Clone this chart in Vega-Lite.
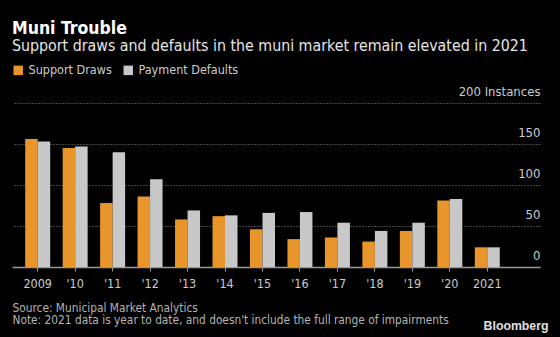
{
  "$schema": "https://vega.github.io/schema/vega-lite/v6.json",
  "autosize": {"type": "none"},
  "width": 528,
  "height": 164,
  "padding": {"left": 12, "top": 103, "right": 20, "bottom": 70},
  "background": "#000000",
  "title": {
    "text": "Muni Trouble",
    "subtitle": "Support draws and defaults in the muni market remain elevated in 2021",
    "anchor": "start",
    "offset": 10,
    "font": "DejaVu Sans Condensed",
    "fontSize": 17.5,
    "fontWeight": "bold",
    "color": "#ffffff",
    "subtitleFont": "DejaVu Sans Condensed",
    "subtitleFontSize": 15.8,
    "subtitleColor": "#e6e6e6",
    "subtitlePadding": 1.5
  },
  "data": {
    "values": [
      {"year": "2009", "series": "Support Draws", "value": 156},
      {"year": "2009", "series": "Payment Defaults", "value": 153},
      {"year": "'10", "series": "Support Draws", "value": 145},
      {"year": "'10", "series": "Payment Defaults", "value": 147},
      {"year": "'11", "series": "Support Draws", "value": 78},
      {"year": "'11", "series": "Payment Defaults", "value": 140},
      {"year": "'12", "series": "Support Draws", "value": 86},
      {"year": "'12", "series": "Payment Defaults", "value": 107},
      {"year": "'13", "series": "Support Draws", "value": 58},
      {"year": "'13", "series": "Payment Defaults", "value": 69},
      {"year": "'14", "series": "Support Draws", "value": 62},
      {"year": "'14", "series": "Payment Defaults", "value": 63},
      {"year": "'15", "series": "Support Draws", "value": 46},
      {"year": "'15", "series": "Payment Defaults", "value": 66},
      {"year": "'16", "series": "Support Draws", "value": 34},
      {"year": "'16", "series": "Payment Defaults", "value": 67},
      {"year": "'17", "series": "Support Draws", "value": 36},
      {"year": "'17", "series": "Payment Defaults", "value": 54},
      {"year": "'18", "series": "Support Draws", "value": 31},
      {"year": "'18", "series": "Payment Defaults", "value": 44},
      {"year": "'19", "series": "Support Draws", "value": 44},
      {"year": "'19", "series": "Payment Defaults", "value": 54},
      {"year": "'20", "series": "Support Draws", "value": 81},
      {"year": "'20", "series": "Payment Defaults", "value": 83},
      {"year": "2021", "series": "Support Draws", "value": 24},
      {"year": "2021", "series": "Payment Defaults", "value": 24}
    ]
  },
  "mark": {"type": "bar"},
  "encoding": {
    "x": {
      "field": "year",
      "type": "nominal",
      "sort": null,
      "scale": {"paddingInner": 0.333, "paddingOuter": 0.713, "align": 0.247},
      "axis": {
        "labelAngle": 0,
        "labelFont": "DejaVu Sans Condensed",
        "labelFontSize": 12.5,
        "labelColor": "#cccccc",
        "labelPadding": 6,
        "tickSize": 4,
        "tickColor": "#999999",
        "domain": true,
        "domainColor": "#999999",
        "domainWidth": 1.5,
        "title": ["Source: Municipal Market Analytics", "Note: 2021 data is year to date, and doesn't include the full range of impairments"],
        "titleFont": "DejaVu Sans Condensed",
        "titleFontSize": 11.8,
        "titleFontWeight": "normal",
        "titleColor": "#b4b4b4",
        "titleAnchor": "start",
        "titleAlign": "left",
        "titleBaseline": "top",
        "titleX": 0,
        "titleY": 35,
        "titleLineHeight": 12.5
      }
    },
    "xOffset": {"field": "series", "type": "nominal", "sort": ["Support Draws", "Payment Defaults"]},
    "y": {
      "field": "value",
      "type": "quantitative",
      "scale": {"domain": [0, 200], "nice": false},
      "axis": {
        "orient": "right",
        "values": [0, 50, 100, 150, 200],
        "labelExpr": "datum.value == 200 ? '200 Instances' : datum.label",
        "domain": false,
        "ticks": false,
        "tickSize": 0,
        "labelPadding": 0,
        "labelAlign": "right",
        "labelBaseline": "alphabetic",
        "labelOffset": -8,
        "labelFont": "DejaVu Sans Condensed",
        "labelFontSize": 13,
        "labelColor": "#cccccc",
        "grid": true,
        "gridDash": [1, 2],
        "gridColor": "#8a8a8a",
        "gridWidth": 1,
        "title": "Bloomberg",
        "titleAngle": 0,
        "titleFont": "Liberation Sans",
        "titleFontSize": 12.3,
        "titleFontWeight": "bold",
        "titleColor": "#e0e0e0",
        "titleAlign": "right",
        "titleBaseline": "middle",
        "titleX": 8,
        "titleY": 222
      }
    },
    "color": {
      "field": "series",
      "type": "nominal",
      "sort": ["Support Draws", "Payment Defaults"],
      "scale": {"domain": ["Support Draws", "Payment Defaults"], "range": ["#e8952c", "#c8c8c8"]},
      "legend": {
        "orient": "none",
        "legendX": 0,
        "legendY": -39,
        "direction": "horizontal",
        "title": null,
        "symbolType": "square",
        "symbolSize": 90,
        "symbolStrokeWidth": 0,
        "labelFont": "DejaVu Sans Condensed",
        "labelFontSize": 12.5,
        "labelColor": "#cccccc",
        "labelOffset": 4,
        "columnPadding": 10
      }
    }
  },
  "config": {"view": {"stroke": null}}
}
